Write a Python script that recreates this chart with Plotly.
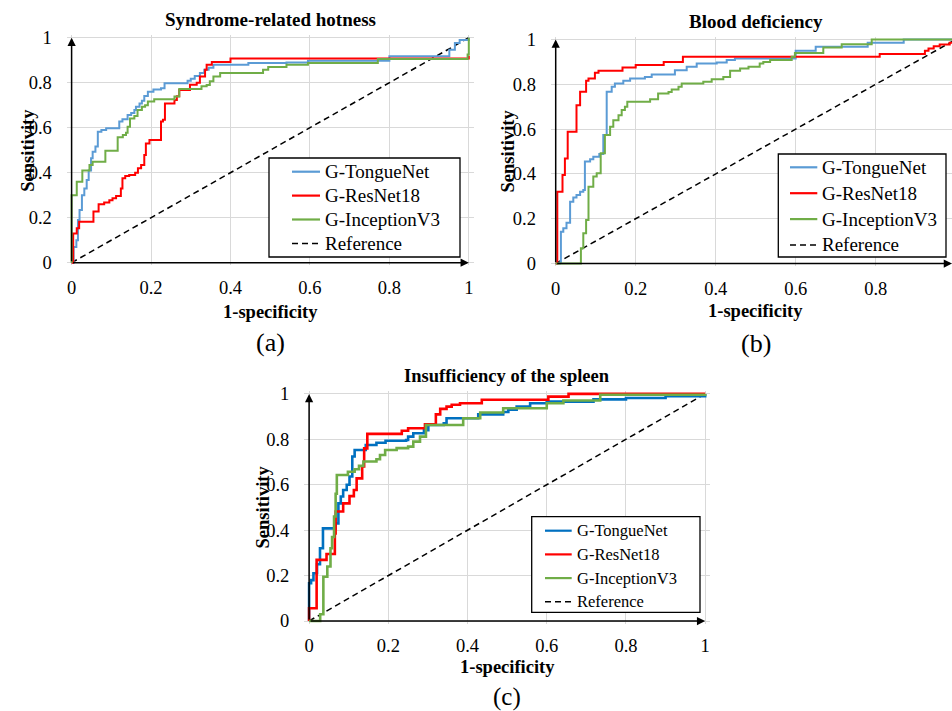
import plotly.graph_objects as go

W, H = 952, 711
FONT = "Liberation Serif, Times New Roman, serif"

series_names = ["G-TongueNet", "G-ResNet18", "G-InceptionV3", "Reference"]
panel_titles = ["Syndrome-related hotness", "Blood deficiency", "Insufficiency of the spleen"]
panel_tags = ["(a)", "(b)", "(c)"]
x_title = "1-specificity"
y_title = "Sensitivity"
tick_vals = [0, 0.2, 0.4, 0.6, 0.8, 1]

# ROC curves: (false-positive rate, true-positive rate) at each step of the curve
# (a) Syndrome-related hotness
hot_tonguenet_fpr = [0, 0.005, 0.012, 0.016, 0.020, 0.026, 0.032, 0.038, 0.043, 0.049,
                     0.053, 0.060, 0.066, 0.075, 0.087, 0.120, 0.128, 0.141, 0.150, 0.158,
                     0.162, 0.171, 0.177, 0.183, 0.192, 0.206, 0.225, 0.234, 0.292, 0.300,
                     0.310, 0.323, 0.334, 0.345, 0.357, 0.445, 0.541, 0.595, 0.800, 0.951,
                     0.965, 0.977, 1.0]
hot_tonguenet_tpr = [0, 0.07, 0.10, 0.19, 0.234, 0.30, 0.33, 0.367, 0.41, 0.464,
                     0.493, 0.516, 0.582, 0.59, 0.597, 0.627, 0.637, 0.656, 0.665, 0.679,
                     0.693, 0.708, 0.72, 0.741, 0.76, 0.77, 0.775, 0.797, 0.809, 0.818,
                     0.83, 0.843, 0.858, 0.866, 0.88, 0.887, 0.89, 0.897, 0.917, 0.947,
                     0.976, 0.99, 1.0]
hot_resnet_fpr = [0, 0.004, 0.013, 0.019, 0.055, 0.068, 0.082, 0.095, 0.103,
                  0.112, 0.124, 0.128, 0.135, 0.145, 0.160, 0.167, 0.175, 0.183, 0.187,
                  0.196, 0.225, 0.230, 0.235, 0.259, 0.265, 0.271, 0.298, 0.315, 0.323,
                  0.336, 0.340, 0.353, 0.400, 1.0]
hot_resnet_tpr = [0, 0.13, 0.153, 0.182, 0.227, 0.26, 0.267, 0.277, 0.286,
                  0.296, 0.33, 0.375, 0.385, 0.39, 0.40, 0.42, 0.434, 0.479, 0.53,
                  0.545, 0.627, 0.635, 0.708, 0.723, 0.74, 0.767, 0.791, 0.80, 0.828,
                  0.858, 0.88, 0.892, 0.907, 0.92]
hot_inception_fpr = [0, 0.0, 0.013, 0.027, 0.045, 0.053, 0.085, 0.116, 0.129, 0.137,
                     0.141, 0.147, 0.158, 0.166, 0.177, 0.185, 0.192, 0.208, 0.259, 0.271,
                     0.327, 0.340, 0.348, 0.357, 0.374, 0.482, 0.495, 0.541, 0.595, 0.771,
                     0.997, 1.0]
hot_inception_tpr = [0, 0.30, 0.36, 0.41, 0.434, 0.449, 0.498, 0.557, 0.567, 0.578,
                     0.604, 0.641, 0.652, 0.679, 0.693, 0.70, 0.716, 0.726, 0.739, 0.772,
                     0.784, 0.79, 0.806, 0.828, 0.843, 0.858, 0.87, 0.88, 0.887, 0.905,
                     0.925, 1.0]

# (b) Blood deficiency
blood_tonguenet_fpr = [0, 0.010, 0.013, 0.019, 0.027, 0.036, 0.044, 0.052, 0.061, 0.069,
                       0.073, 0.086, 0.094, 0.109, 0.119, 0.1275, 0.140, 0.148, 0.169, 0.186,
                       0.223, 0.240, 0.298, 0.3275, 0.3525, 0.4025, 0.4275, 0.448, 0.600, 0.650,
                       0.780, 0.870, 1.0]
blood_tonguenet_tpr = [0, 0.005, 0.142, 0.157, 0.182, 0.276, 0.295, 0.306, 0.32, 0.328,
                       0.455, 0.465, 0.477, 0.489, 0.574, 0.767, 0.789, 0.804, 0.816, 0.826,
                       0.833, 0.844, 0.863, 0.878, 0.893, 0.897, 0.908, 0.915, 0.950, 0.968,
                       0.985, 1.0, 1.0]
blood_resnet_fpr = [0, 0.004, 0.017, 0.023, 0.030, 0.052, 0.061, 0.076, 0.082, 0.098,
                    0.107, 0.167, 0.200, 0.270, 0.318, 0.810, 0.923, 0.932, 0.945, 0.960,
                    0.985, 1.0]
blood_resnet_tpr = [0, 0.32, 0.395, 0.469, 0.588, 0.707, 0.767, 0.816, 0.826, 0.852,
                    0.86, 0.875, 0.886, 0.899, 0.923, 0.935, 0.950, 0.960, 0.970, 0.978,
                    0.985, 1.0]
blood_inception_fpr = [0, 0.061, 0.063, 0.069, 0.076, 0.082, 0.094, 0.1025, 0.1125, 0.123,
                       0.136, 0.144, 0.157, 0.165, 0.173, 0.179, 0.236, 0.256, 0.282, 0.290,
                       0.307, 0.315, 0.369, 0.390, 0.419, 0.436, 0.461, 0.482, 0.510, 0.519,
                       0.536, 0.590, 0.598, 0.669, 0.715, 0.790, 1.0]
blood_inception_tpr = [0, 0.0, 0.068, 0.135, 0.194, 0.343, 0.388, 0.403, 0.492, 0.574,
                       0.61, 0.64, 0.662, 0.685, 0.70, 0.722, 0.733, 0.759, 0.766, 0.777,
                       0.789, 0.804, 0.811, 0.823, 0.833, 0.86, 0.87, 0.878, 0.893, 0.90,
                       0.908, 0.923, 0.94, 0.964, 0.979, 1.0, 1.0]

# (c) Insufficiency of the spleen
spleen_tonguenet_fpr = [0, 0.0, 0.005, 0.011, 0.020, 0.0275, 0.035, 0.067, 0.074, 0.080,
                        0.086, 0.095, 0.102, 0.109, 0.115, 0.143, 0.170, 0.193, 0.245, 0.250,
                        0.263, 0.290, 0.301, 0.340, 0.347, 0.427, 0.490, 0.503, 0.524, 0.558,
                        0.600, 0.718, 0.800, 0.900, 1.0]
spleen_tonguenet_tpr = [0, 0.166, 0.18, 0.21, 0.25, 0.32, 0.408, 0.43, 0.518, 0.548,
                        0.577, 0.60, 0.636, 0.724, 0.753, 0.775, 0.785, 0.794, 0.797, 0.812,
                        0.827, 0.84, 0.863, 0.871, 0.893, 0.91, 0.92, 0.93, 0.944, 0.959,
                        0.966, 0.976, 0.982, 0.99, 1.0]
spleen_resnet_fpr = [0, 0.0, 0.019, 0.044, 0.065, 0.067, 0.086, 0.102, 0.113, 0.120,
                     0.134, 0.139, 0.147, 0.234, 0.250, 0.2925, 0.320, 0.331, 0.347, 0.360,
                     0.381, 0.436, 0.604, 0.655, 1.0]
spleen_resnet_tpr = [0, 0.056, 0.269, 0.295, 0.386, 0.482, 0.518, 0.55, 0.577, 0.628,
                     0.68, 0.76, 0.824, 0.838, 0.849, 0.866, 0.91, 0.934, 0.944, 0.952,
                     0.959, 0.974, 0.988, 1.0, 1.0]
spleen_inception_fpr = [0, 0.025, 0.028, 0.036, 0.046, 0.054, 0.058, 0.063, 0.067, 0.070,
                        0.098, 0.115, 0.126, 0.137, 0.170, 0.179, 0.192, 0.221, 0.250, 0.263,
                        0.280, 0.295, 0.389, 0.432, 0.490, 0.600, 0.642, 0.735, 1.0]
spleen_inception_tpr = [0, 0.0, 0.03, 0.195, 0.24, 0.32, 0.37, 0.46, 0.56, 0.643,
                        0.657, 0.668, 0.683, 0.702, 0.712, 0.731, 0.753, 0.761, 0.768, 0.79,
                        0.812, 0.863, 0.893, 0.918, 0.937, 0.959, 0.971, 0.996, 1.0]

# chance diagonal
ref_fpr = [0, 1]
ref_tpr = [0, 1]

panel_curves = [
    [(hot_tonguenet_fpr, hot_tonguenet_tpr), (hot_resnet_fpr, hot_resnet_tpr),
     (hot_inception_fpr, hot_inception_tpr)],
    [(blood_tonguenet_fpr, blood_tonguenet_tpr), (blood_resnet_fpr, blood_resnet_tpr),
     (blood_inception_fpr, blood_inception_tpr)],
    [(spleen_tonguenet_fpr, spleen_tonguenet_tpr), (spleen_resnet_fpr, spleen_resnet_tpr),
     (spleen_inception_fpr, spleen_inception_tpr)],
]

# ---- styling / layout geometry (pixels on the 952 x 711 page) ----
panel_colors = [
    ["#5B9BD5", "#FF0000", "#70AD47"],
    ["#5B9BD5", "#FF0000", "#70AD47"],
    ["#0070C0", "#FF0000", "#70AD47"],
]
panel_line_width = [2, 2, 2.6]
# pixel position of data 0 and 1 on each axis: (x at 0, x at 1, y at 0, y at 1)
panel_frame = [
    (71.6, 468.8, 262.7, 37.7),
    (555.7, 955.7, 263.5, 39.5),
    (309.1, 705.2, 621.0, 393.9),
]
title_font = [19, 19, 18.5]
tick_font = [18.5, 18.5, 18.5]
ylabel_x = [28.5, 508, 263]
xlabel_dy = [49, 48, 46]
tag_dy = [80, 80, 76]
tag_font = [26, 26, 25]
# legend: box (x0, y0, x1, y1), sample line x-span, text x, first row y, row step, font size
legend_spec = [
    dict(box=(269, 158, 460, 257), line=(292, 320), tx=323.3, ry=171.7, dy=23.9, fs=19),
    dict(box=(778.3, 154, 946, 257), line=(790, 817.3), tx=820, ry=167.3, dy=25.9, fs=19),
    dict(box=(531.7, 516.7, 700, 612.3), line=(545, 571.7), tx=575, ry=530.7, dy=23.7, fs=16.5),
]
PAD = 0.012


def px(x):
    return x / W


def py(y):
    return 1 - y / H


fig = go.Figure()
layout = dict(
    width=W, height=H, margin=dict(l=0, r=0, t=0, b=0, autoexpand=False),
    template="none",
    paper_bgcolor="white", plot_bgcolor="white", showlegend=False,
    font=dict(family=FONT, color="black"),
)
annotations = []
shapes = []

for i in range(3):
    suffix = "" if i == 0 else str(i + 1)
    xa, ya = "x" + suffix, "y" + suffix
    x0, x1, y0, y1 = panel_frame[i]
    sx, sy = x1 - x0, y0 - y1
    dom_x0 = (x0 - PAD * sx) / W
    dom_x1 = min(1.0, (x1 + PAD * sx) / W)
    xr1 = (dom_x1 * W - x0) / sx
    dom_y0 = py(y0 + PAD * sy)
    dom_y1 = py(y1 - PAD * sy)

    common = dict(
        showgrid=True, gridcolor="#D9D9D9", gridwidth=1, zeroline=False, automargin=False,
        showline=False, ticks="", tickmode="array", tickvals=tick_vals,
        tickfont=dict(family=FONT, size=tick_font[i], color="black"),
    )
    layout["xaxis" + suffix] = dict(common, domain=[dom_x0, dom_x1], range=[-PAD, xr1],
                                    anchor=ya, ticklabelstandoff=9)
    layout["yaxis" + suffix] = dict(common, domain=[dom_y0, dom_y1], range=[-PAD, 1 + PAD],
                                    anchor=xa, ticklabelstandoff=14)

    # reference diagonal
    fig.add_trace(go.Scatter(x=ref_fpr, y=ref_tpr, mode="lines", xaxis=xa, yaxis=ya,
                             line=dict(color="black", width=1.5, dash="6px,4px"),
                             name=series_names[3]))
    # model curves
    for k, (fx, ty) in enumerate(panel_curves[i]):
        fig.add_trace(go.Scatter(x=fx, y=ty, mode="lines", xaxis=xa, yaxis=ya,
                                 line=dict(color=panel_colors[i][k], width=panel_line_width[i],
                                           shape="hv"),
                                 name=series_names[k]))

    # axis lines with arrow heads
    x_end = min(1.0, xr1)
    annotations.append(dict(xref=xa, yref=ya, axref=xa, ayref=ya, x=x_end, y=0, ax=0, ay=0,
                            text="", showarrow=True, arrowhead=2, arrowsize=1.1,
                            arrowwidth=1.5, arrowcolor="black"))
    annotations.append(dict(xref=xa, yref=ya, axref=xa, ayref=ya, x=0, y=1, ax=0, ay=0,
                            text="", showarrow=True, arrowhead=2, arrowsize=1.1,
                            arrowwidth=1.5, arrowcolor="black"))

    cx = (x0 + x1) / 2 if i != 1 else 755.5
    # panel title
    annotations.append(dict(xref="paper", yref="paper", x=px(cx), y=py(y1 - 18),
                            text="<b>%s</b>" % panel_titles[i], showarrow=False,
                            xanchor="center", yanchor="middle",
                            font=dict(family=FONT, size=title_font[i], color="black")))
    # axis titles
    annotations.append(dict(xref="paper", yref="paper", x=px(cx), y=py(y0 + xlabel_dy[i]),
                            text="<b>%s</b>" % x_title, showarrow=False,
                            xanchor="center", yanchor="middle",
                            font=dict(family=FONT, size=18.5, color="black")))
    annotations.append(dict(xref="paper", yref="paper", x=px(ylabel_x[i]), y=py((y0 + y1) / 2),
                            text="<b>%s</b>" % y_title, showarrow=False, textangle=-90,
                            xanchor="center", yanchor="middle",
                            font=dict(family=FONT, size=18.5, color="black")))
    # panel tag
    annotations.append(dict(xref="paper", yref="paper", x=px(cx), y=py(y0 + tag_dy[i]),
                            text=panel_tags[i], showarrow=False,
                            xanchor="center", yanchor="middle",
                            font=dict(family=FONT, size=tag_font[i], color="black")))

    # legend box, samples and labels
    spec = legend_spec[i]
    bx0, by0, bx1, by1 = spec["box"]
    shapes.append(dict(type="rect", xref="paper", yref="paper", layer="above",
                       x0=px(bx0), x1=px(bx1), y0=py(by1), y1=py(by0),
                       fillcolor="white", line=dict(color="black", width=1.3)))
    sample_styles = [dict(color=panel_colors[i][k], width=2.2) for k in range(3)]
    sample_styles.append(dict(color="black", width=1.5, dash="6px,4px"))
    for k, name in enumerate(series_names):
        ry = spec["ry"] + k * spec["dy"]
        shapes.append(dict(type="line", xref="paper", yref="paper", layer="above",
                           x0=px(spec["line"][0]), x1=px(spec["line"][1]),
                           y0=py(ry), y1=py(ry), line=sample_styles[k]))
        annotations.append(dict(xref="paper", yref="paper", x=px(spec["tx"]), y=py(ry),
                                text=name, showarrow=False, xanchor="left", yanchor="middle",
                                font=dict(family=FONT, size=spec["fs"], color="black")))

layout["annotations"] = annotations
layout["shapes"] = shapes
fig.update_layout(**layout)
fig.write_html("out.html")
